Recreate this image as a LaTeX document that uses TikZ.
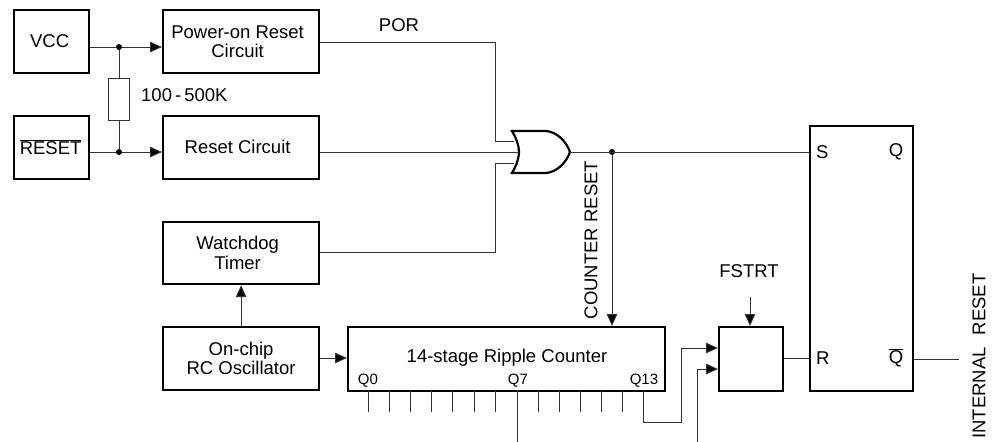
\documentclass[tikz,border=0pt]{standalone}
\usepackage{fontspec}
\setmainfont{Liberation Sans}
\usetikzlibrary{arrows.meta}
\newcommand{\fa}{\fontsize{18.5}{19.5}\selectfont}
\newcommand{\fb}{\fontsize{15}{18}\selectfont}
\newcommand{\lft}[1]{\hspace*{-7pt}#1}
\tikzset{
  x=1pt,y=-1pt,
  blk/.style={draw=black,line width=2.2pt,minimum width=0,inner sep=0pt,align=center,font=\fa},
  wire/.style={draw=black!80,line width=1pt},
  arr/.style={wire,-{Triangle[length=12pt,width=10.5pt,fill=black]}},
  lab/.style={inner sep=0pt,font=\fa},
  pin/.style={inner sep=0pt,font=\fb},
  dotn/.style={circle,fill=black,inner sep=0pt,minimum size=6pt},
}
\newcommand{\bx}[6]{\node[blk,minimum width=#4,minimum height=#5,anchor=north west] (#1) at (#2,#3) {#6};}
\begin{document}
\begin{tikzpicture}
\useasboundingbox (0,0) rectangle (997,442);
\bx{vcc}{13}{9}{75pt}{63pt}{\raisebox{1pt}{\hspace*{-4pt}VCC}}
\bx{rst}{13}{115}{75pt}{63pt}{\raisebox{2pt}{\hspace*{-2pt}$\overline{\hbox{RESET}}$}}
\bx{por}{162}{9}{156pt}{63pt}{\lft{Power-on Reset}\\\lft{Circuit}}
\bx{rc}{162}{115}{156pt}{63pt}{\raisebox{1.5pt}{\lft{Reset Circuit}}}
\bx{wd}{162}{221}{156pt}{62pt}{\lft{Watchdog}\\\lft{Timer}}
\bx{osc}{162}{326}{156pt}{63pt}{On-chip\\RC Oscillator}
\bx{cnt}{347}{326}{317pt}{64pt}{}
\bx{sb}{718}{326}{64pt}{64pt}{}
\bx{ff}{809}{125}{103pt}{265pt}{}
% coordinates
\coordinate (dv) at (119,47);
\coordinate (dr) at (119,152);
\coordinate (dg) at (612,152);
\coordinate (gi1) at (514,141);
\coordinate (gi2) at (519,152);
\coordinate (gi3) at (514,163);
\coordinate (go) at (570,152);
% gate
\draw[black,line width=2.2pt,fill=white,line join=miter]
  (512,131) .. controls (516,138) and (519,145) .. (519,152)
  .. controls (519,159) and (516,166) .. (512,173)
  -- (546,173) .. controls (557,172) and (566,163) .. (go)
  .. controls (566,141) and (557,132) .. (546,131) -- cycle;
% wires
\draw[arr] (vcc.east|-dv) -- (por.west|-dv);
\draw[arr] (rst.east|-dr) -- (rc.west|-dr);
\node[dotn] (d1) at (dv) {};
\node[dotn] (d2) at (dr) {};
\node[draw=black!80,line width=1pt,fill=white,minimum width=21pt,minimum height=42pt,inner sep=0pt] (res) at (119,99) {};
\draw[wire] (d1) -- (res.north);
\draw[wire] (res.south) -- (d2);
\node[lab,anchor=west] (rv) at (141,95) {100\,-\,500K};
\draw[wire] (por.east|-0,42) -- (495,42) -- (495,141) -- (gi1);
\draw[wire] (rc.east|-gi2) -- (gi2);
\draw[wire] (wd.east|-0,252) -- (495,252) -- (495,163) -- (gi3);
\node[lab] (pl) at (399,25) {POR};
\node[dotn] (d3) at (dg) {};
\draw[wire] (go) -- (ff.west|-go);
\draw[arr] (d3) -- (d3|-cnt.north);
\node[lab,rotate=90] (cr) at (591,240) {COUNTER RESET};
\draw[arr] (osc.north) -- (wd.south);
\draw[arr] (osc.east|-0,358) -- (cnt.west|-0,358);
\node[lab] (cl) at (507,358) {14-stage Ripple Counter};
\node[pin] (q0) at (368,381) {Q0};
\node[pin] (q7) at (518,381) {Q7};
\node[pin] (q13) at (644,381) {Q13};
\foreach \i in {368,389.2,410.4,431.6,452.8,474,495.2,538,559,580,601,622}{
  \draw[wire] (\i,390) -- (\i,412);
}
\coordinate (q7e) at (517,442);
\draw[wire] (517,390) -- (q7e);
\draw[arr] (643,390) -- (643,422) -- (681,422) -- (681,348) -- (sb.west|-0,348);
\coordinate (ine) at (697,442);
\draw[arr] (ine) -- (697,369) -- (sb.west|-0,369);
\node[lab] (fs) at (749,271) {FSTRT};
\draw[arr] (750,297) -- (750,326);
\draw[wire] (sb.east|-0,358) -- (ff.west|-0,358);
\coordinate (qe) at (959,359);
\draw[wire] (ff.east|-qe) -- (qe);
\node[lab,anchor=west] (s) at (816,152) {S};
\node[lab,anchor=west] (r) at (816,358) {R};
\node[lab] (q) at (896,152) {Q};
\node[lab] (qb) at (896,358) {$\overline{\hbox{Q}}$};
\node[lab,rotate=90] (ir) at (979,356) {INTERNAL\hspace{12pt}RESET};
\end{tikzpicture}
\end{document}
